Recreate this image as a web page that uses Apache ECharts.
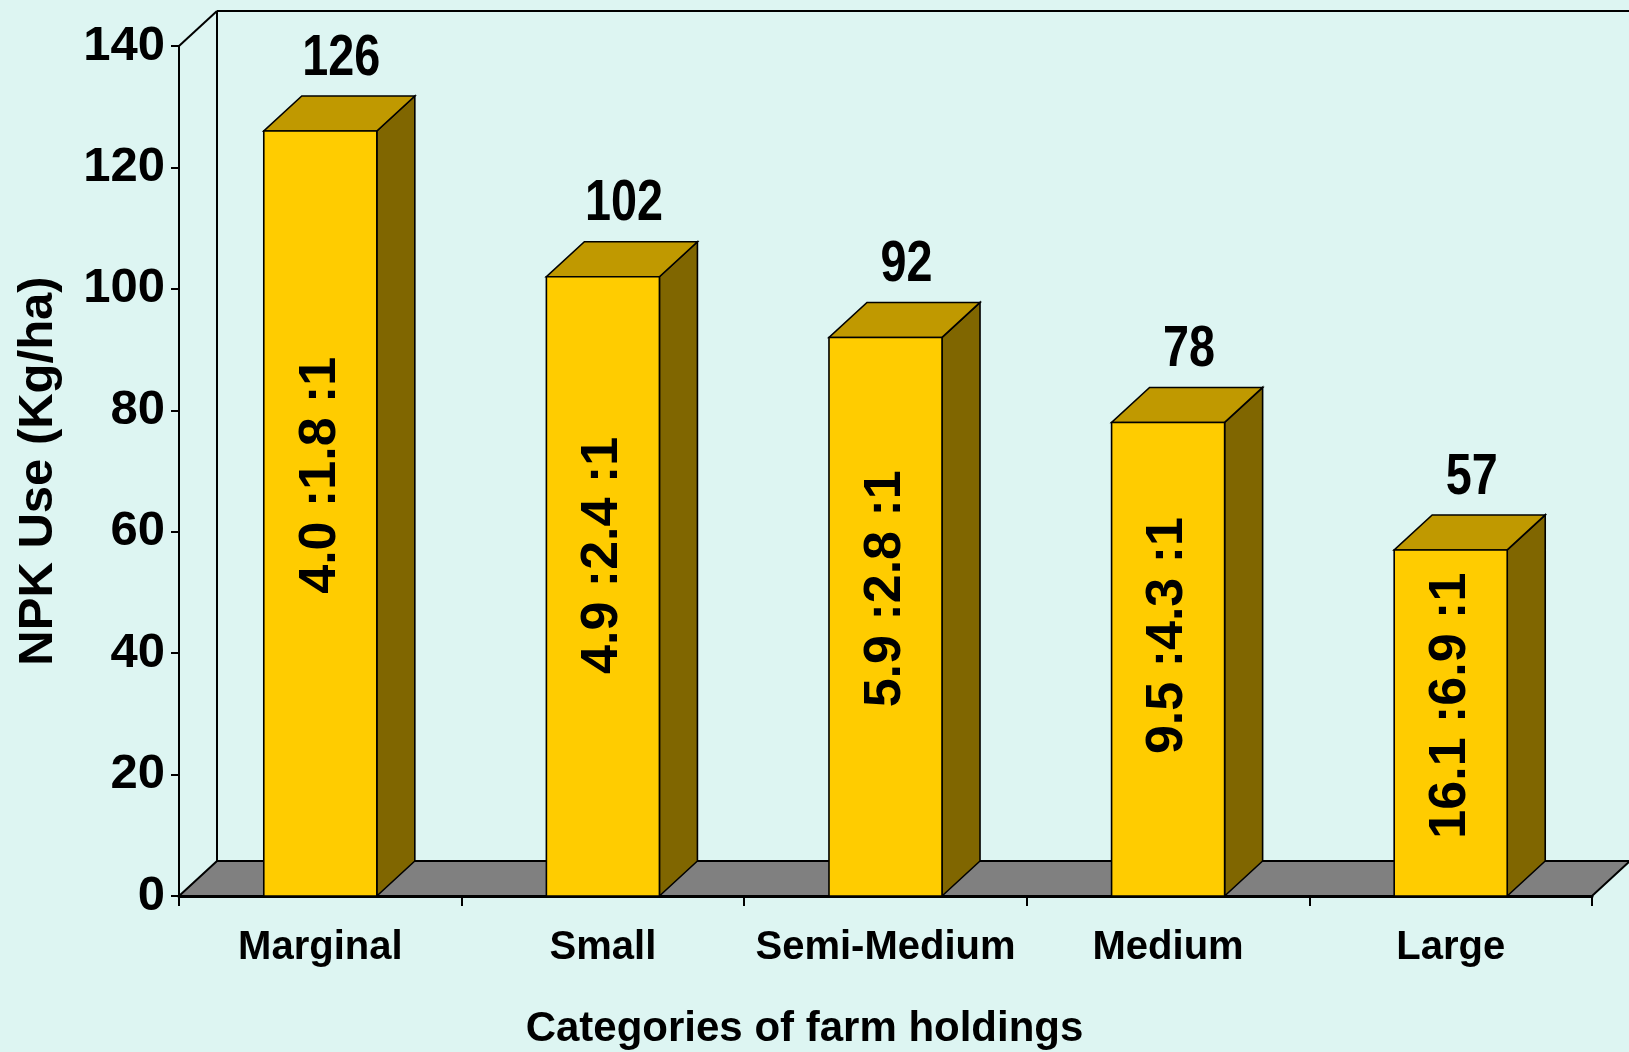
<!DOCTYPE html>
<html>
<head>
<meta charset="utf-8">
<title>NPK Use by Categories of Farm Holdings</title>
<script src="https://cdn.jsdelivr.net/npm/echarts@6/dist/echarts.min.js"></script>
<style>
  html, body { margin: 0; padding: 0; background: #DDF5F2; }
  #chart { width: 1629px; height: 1052px; }
</style>
</head>
<body>
<div id="chart"></div>
<script>
// Farm holding categories and NPK use (kg/ha)
const categories = ['Marginal', 'Small', 'Semi-Medium', 'Medium', 'Large'];
const npkUse = [126, 102, 92, 78, 57];
// N : P : K ratio printed on each column
const npkRatios = ['4.0 :1.8 :1', '4.9 :2.4 :1', '5.9 :2.8 :1', '9.5 :4.3 :1', '16.1 :6.9 :1'];
// Value axis range
const yMin = 0;
const yMax = 140;
const yStep = 20;

const SANS = '"Liberation Sans", Arial, sans-serif';

// oblique depth of the pseudo-3D box
const DX = 38;
const DY = -35;

const FRONT = '#FFCC00';
const TOP = '#C09900';
const SIDE = '#806600';
const FLOOR = '#808080';

const chart = echarts.init(document.getElementById('chart'), null, { renderer: 'canvas' });

// back wall outline, side-wall edge and grey floor
function renderFrame(params, api) {
  const cs = params.coordSys;
  const x0 = cs.x, y0 = cs.y, x1 = cs.x + cs.width, y1 = cs.y + cs.height;
  const line = { stroke: '#000', lineWidth: 2 };
  return {
    type: 'group',
    children: [
      { type: 'polygon', shape: { points: [[x0, y1], [x1, y1], [x1 + DX, y1 + DY], [x0 + DX, y1 + DY]] },
        style: { fill: FLOOR, stroke: '#000', lineWidth: 2 } },
      { type: 'line', shape: { x1: x0 + DX, y1: y0 + DY, x2: x0 + DX, y2: y1 + DY }, style: line },
      { type: 'line', shape: { x1: x0 + DX, y1: y0 + DY, x2: x1 + DX, y2: y0 + DY }, style: line },
      { type: 'line', shape: { x1: x1 + DX, y1: y0 + DY, x2: x1 + DX, y2: y1 + DY }, style: line },
      { type: 'line', shape: { x1: x0, y1: y0, x2: x0 + DX, y2: y0 + DY }, style: line }
    ]
  };
}

// one pseudo-3D column with its value and NPK ratio
function renderColumn(params, api) {
  const idx = api.value(0);
  const val = api.value(1);
  const base = api.coord([idx, 0]);
  const top = api.coord([idx, val]);
  const w = api.size([1, 0])[0] * 0.4;
  const xl = base[0] - w / 2;
  const xr = base[0] + w / 2;
  const yt = top[1];
  const yb = base[1];
  const mid = api.coord([idx, val * 0.55]);
  const edge = { stroke: '#000', lineWidth: 1.6 };
  return {
    type: 'group',
    children: [
      { type: 'polygon', shape: { points: [[xr, yt], [xr + DX, yt + DY], [xr + DX, yb + DY], [xr, yb]] },
        style: Object.assign({ fill: SIDE }, edge) },
      { type: 'polygon', shape: { points: [[xl, yt], [xr, yt], [xr + DX, yt + DY], [xl + DX, yt + DY]] },
        style: Object.assign({ fill: TOP }, edge) },
      { type: 'rect', shape: { x: xl, y: yt, width: w, height: yb - yt },
        style: Object.assign({ fill: FRONT }, edge) },
      { type: 'text', x: base[0], y: mid[1], rotation: Math.PI / 2,
        style: { text: npkRatios[idx], fill: '#000', font: 'bold 52px ' + SANS,
                 align: 'center', verticalAlign: 'middle' } },
      { type: 'text', x: base[0] + 21, y: yt - 72, scaleX: 0.82,
        style: { text: String(val), fill: '#000', font: 'bold 57px ' + SANS,
                 align: 'center', verticalAlign: 'middle' } }
    ]
  };
}

chart.setOption({
  backgroundColor: '#DDF5F2',
  animation: false,
  grid: { left: 179, right: 37, top: 46, bottom: 156, containLabel: false, outerBoundsMode: 'none' },
  xAxis: {
    type: 'category',
    data: categories,
    name: 'Categories of farm holdings',
    nameLocation: 'middle',
    nameGap: 112,
    nameTextStyle: { fontFamily: SANS, fontWeight: 'bold', fontSize: 42, color: '#000',
                     padding: [0, 162, 0, 0] },
    axisLine: { lineStyle: { color: '#000', width: 3 } },
    axisTick: { show: true, interval: 0, length: 10, lineStyle: { color: '#000', width: 2 } },
    axisLabel: { interval: 0, margin: 32, fontFamily: SANS, fontWeight: 'bold', fontSize: 40, color: '#000' },
    splitLine: { show: false }
  },
  yAxis: {
    type: 'value',
    min: yMin,
    max: yMax,
    interval: yStep,
    name: 'NPK Use (Kg/ha)',
    nameLocation: 'middle',
    nameGap: 116,
    nameRotate: 90,
    nameTextStyle: { fontFamily: SANS, fontWeight: 'bold', fontSize: 49, color: '#000' },
    axisLine: { show: true, lineStyle: { color: '#000', width: 2 } },
    axisTick: { show: true, length: 8, lineStyle: { color: '#000', width: 2 } },
    axisLabel: { margin: 14, fontFamily: SANS, fontWeight: 'bold', fontSize: 49, color: '#000' },
    splitLine: { show: false }
  },
  series: [
    {
      type: 'custom',
      z: 1,
      renderItem: renderFrame,
      data: [[0, 0]],
      silent: true
    },
    {
      type: 'custom',
      z: 3,
      renderItem: renderColumn,
      encode: { x: 0, y: 1 },
      data: npkUse.map((v, i) => [i, v])
    }
  ]
});
</script>
</body>
</html>
